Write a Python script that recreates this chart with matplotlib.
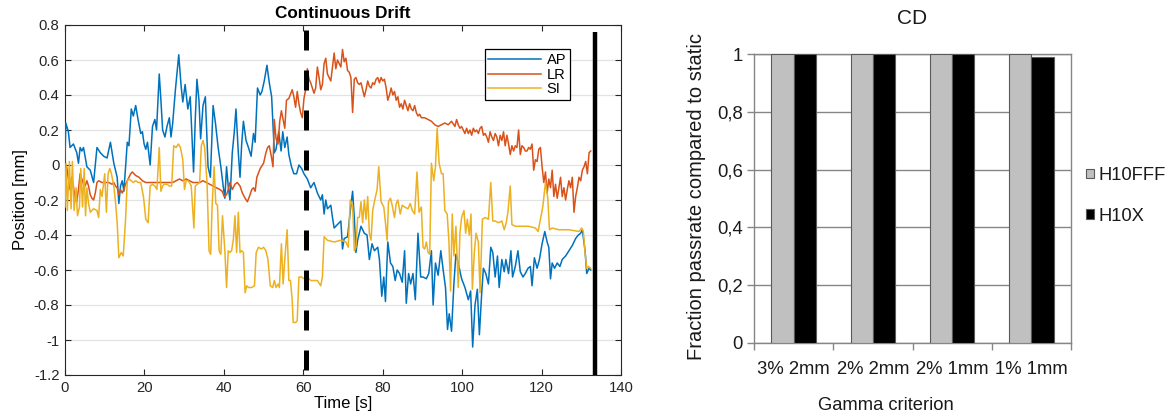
import matplotlib
matplotlib.use('Agg')
import matplotlib.pyplot as plt
import numpy as np

plt.rcParams['font.family'] = ['Liberation Sans', 'DejaVu Sans']
plt.rcParams['axes.unicode_minus'] = False

# ---------------- data: left panel (time [s], position [mm]) ----------------
ap = [(0.0, 0.02), (0.2, 0.24), (0.85, 0.19), (1.27, 0.10), (2.12, 0.12), (2.97, 0.07), (3.39, 0.01),
      (3.81, 0.10), (4.24, 0.08), (4.66, 0.10), (5.51, -0.01), (6.36, -0.03), (7.2, -0.10), (8.05, 0.10),
      (8.9, 0.07), (9.75, 0.05), (10.59, 0.04), (11.44, 0.13), (12.29, 0.01), (13.14, -0.07), (13.56, -0.22),
      (13.98, -0.12), (14.41, -0.09), (14.83, -0.15), (15.68, 0.13), (16.1, 0.11), (16.69, 0.32), (17.2, 0.28),
      (17.8, 0.34), (18.39, 0.26), (19.07, 0.18), (19.49, 0.19), (19.92, 0.12), (20.34, 0.09), (20.76, 0.13),
      (21.44, 0.00), (22.03, 0.22), (22.63, 0.26), (23.05, 0.20), (23.73, 0.52), (24.15, 0.37), (24.58, 0.20),
      (25.17, 0.16), (25.68, 0.22), (26.27, 0.27), (26.69, 0.16), (27.12, 0.24), (27.8, 0.43), (28.64, 0.63),
      (29.24, 0.45), (29.66, 0.36), (30.25, 0.46), (30.93, 0.32), (31.53, 0.39), (31.78, 0.26), (32.37, -0.04),
      (32.8, 0.26), (33.22, 0.49), (33.73, 0.37), (34.15, 0.15), (34.75, 0.34), (35.34, 0.39), (36.02, -0.01),
      (36.61, -0.07), (37.29, 0.34), (37.88, 0.24), (38.56, 0.10), (39.24, -0.01), (39.83, -0.12), (40.25, -0.19),
      (40.68, -0.01), (41.1, -0.12), (41.53, -0.20), (42.12, 0.07), (42.63, 0.19), (43.05, 0.32), (43.64, 0.07),
      (44.07, -0.07), (44.49, 0.12), (44.92, 0.25), (45.59, 0.14), (46.19, 0.10), (46.86, 0.05), (47.46, 0.18),
      (47.88, 0.13), (48.47, 0.44), (49.15, 0.40), (49.58, 0.42), (50.17, 0.48), (50.85, 0.57), (51.44, 0.47),
      (52.03, 0.39), (52.71, 0.07), (53.14, 0.09), (53.81, 0.19), (54.41, 0.08), (54.83, 0.19), (55.34, 0.10),
      (55.93, 0.16), (56.36, 0.06), (57.03, -0.01), (57.63, -0.05), (58.31, -0.05), (58.9, 0.00), (59.58, -0.02),
      (60.17, -0.05), (61.02, -0.08), (61.86, -0.13), (62.7, -0.10), (63.55, -0.16), (64.39, -0.20), (64.81, -0.17),
      (65.24, -0.28), (65.66, -0.20), (66.08, -0.25), (66.93, -0.23), (67.35, -0.30), (67.77, -0.36), (68.61, -0.34),
      (69.46, -0.32), (69.88, -0.48), (70.3, -0.42), (71.15, -0.41), (71.99, -0.23), (72.42, -0.15), (72.84, -0.30),
      (73.26, -0.50), (73.68, -0.43), (74.53, -0.35), (75.37, -0.39), (76.05, -0.40), (76.64, -0.54), (77.31, -0.45),
      (77.9, -0.49), (78.75, -0.47), (79.17, -0.54), (79.76, -0.75), (80.27, -0.64), (80.69, -0.78), (81.28, -0.44),
      (81.96, -0.56), (82.55, -0.58), (83.14, -0.66), (83.65, -0.60), (84.24, -0.62), (84.91, -0.67), (85.51, -0.49),
      (85.93, -0.79), (86.52, -0.62), (87.03, -0.68), (87.62, -0.62), (88.21, -0.77), (88.88, -0.39), (89.56, -0.64),
      (90.15, -0.64), (90.99, -0.65), (91.59, -0.62), (92.26, -0.49), (92.69, -0.80), (93.28, -0.56), (93.95, -0.63),
      (94.63, -0.49), (95.22, -0.60), (95.81, -0.70), (96.32, -0.94), (96.74, -0.85), (97.33, -0.95), (97.92, -0.68),
      (98.43, -0.51), (99.02, -0.56), (99.86, -0.65), (100.71, -0.70), (101.55, -0.77), (102.14, -0.72),
      (102.65, -1.04), (103.24, -0.80), (103.83, -0.71), (104.34, -0.97), (104.93, -0.73), (105.35, -0.59),
      (105.95, -0.62), (106.62, -0.68), (107.21, -0.47), (107.72, -0.50), (108.31, -0.64), (108.9, -0.52),
      (109.32, -0.70), (109.99, -0.54), (110.59, -0.61), (111.01, -0.54), (111.69, -0.62), (112.28, -0.49),
      (112.7, -0.64), (113.38, -0.58), (114.05, -0.49), (114.64, -0.61), (115.32, -0.64), (115.91, -0.62),
      (116.59, -0.59), (117.18, -0.58), (117.6, -0.69), (118.19, -0.53), (118.87, -0.59), (119.46, -0.54),
      (120.13, -0.45), (120.81, -0.38), (121.4, -0.44), (121.82, -0.47), (122.25, -0.65), (122.67, -0.56),
      (123.26, -0.59), (123.94, -0.56), (124.61, -0.58), (125.2, -0.54), (126.05, -0.52), (126.89, -0.49),
      (127.74, -0.46), (128.58, -0.42), (129.26, -0.40), (129.85, -0.39), (130.27, -0.37), (130.95, -0.49),
      (131.37, -0.62), (131.96, -0.59), (132.38, -0.60)]

lr = [(0.0, -0.13), (0.42, -0.01), (0.85, -0.08), (1.27, -0.14), (1.69, -0.07), (2.12, -0.12), (2.54, -0.20),
      (2.97, -0.21), (3.39, -0.14), (3.81, -0.05), (4.24, -0.08), (4.66, -0.11), (5.08, -0.12), (5.51, -0.09),
      (5.93, -0.12), (6.36, -0.17), (6.78, -0.19), (7.2, -0.20), (7.63, -0.16), (8.05, -0.10), (8.47, -0.09),
      (9.32, -0.10), (10.17, -0.10), (11.02, -0.10), (11.86, -0.11), (12.29, -0.10), (12.71, -0.12), (13.14, -0.13),
      (13.56, -0.17), (13.98, -0.14), (14.41, -0.16), (14.83, -0.14), (15.25, -0.11), (15.68, -0.09), (16.53, -0.05),
      (16.95, -0.04), (17.8, -0.06), (18.64, -0.07), (19.49, -0.09), (20.34, -0.10), (21.19, -0.10), (22.46, -0.10),
      (24.15, -0.10), (25.85, -0.10), (27.12, -0.10), (27.97, -0.09), (28.81, -0.08), (29.66, -0.09), (30.51, -0.08),
      (31.36, -0.09), (32.2, -0.10), (33.05, -0.10), (33.9, -0.10), (34.75, -0.09), (35.59, -0.10), (36.44, -0.11),
      (37.29, -0.12), (38.14, -0.13), (38.98, -0.14), (39.58, -0.15), (40.08, -0.18), (40.68, -0.17), (41.1, -0.14),
      (41.53, -0.10), (42.12, -0.14), (42.8, -0.11), (43.39, -0.10), (44.07, -0.12), (44.66, -0.16), (45.34, -0.19),
      (45.93, -0.21), (46.44, -0.18), (47.03, -0.14), (47.46, -0.13), (47.88, -0.15), (48.31, -0.07), (49.15, -0.02),
      (50.0, 0.01), (50.59, 0.07), (51.02, 0.10), (51.44, 0.11), (51.95, 0.05), (52.37, -0.01), (52.71, 0.26),
      (53.14, 0.15), (53.64, 0.12), (54.07, 0.25), (54.49, 0.31), (54.92, 0.26), (55.34, 0.21), (55.76, 0.37),
      (56.36, 0.38), (57.21, 0.43), (57.63, 0.39), (58.06, 0.33), (58.48, 0.42), (58.9, 0.35), (59.32, 0.30),
      (59.75, 0.27), (60.17, 0.38), (60.59, 0.43), (61.01, 0.55), (61.44, 0.49), (61.86, 0.47), (62.28, 0.44),
      (62.7, 0.41), (63.12, 0.44), (63.55, 0.56), (63.97, 0.50), (64.39, 0.43), (64.81, 0.46), (65.24, 0.58),
      (65.66, 0.61), (66.08, 0.52), (66.5, 0.50), (66.93, 0.48), (67.35, 0.56), (67.77, 0.64), (68.19, 0.55),
      (68.61, 0.60), (69.04, 0.58), (69.46, 0.56), (69.88, 0.66), (70.3, 0.59), (70.73, 0.61), (71.15, 0.54),
      (71.57, 0.53), (71.99, 0.50), (72.42, 0.30), (72.84, 0.49), (73.26, 0.50), (73.68, 0.47), (74.1, 0.46),
      (74.53, 0.47), (74.95, 0.43), (75.37, 0.39), (75.79, 0.43), (76.22, 0.48), (76.64, 0.45), (77.06, 0.44),
      (77.48, 0.47), (77.9, 0.46), (78.33, 0.49), (78.75, 0.50), (79.17, 0.47), (79.59, 0.50), (80.02, 0.48),
      (80.44, 0.49), (80.86, 0.44), (81.28, 0.37), (81.71, 0.40), (82.13, 0.44), (82.55, 0.40), (82.97, 0.42),
      (83.39, 0.37), (83.82, 0.39), (84.24, 0.33), (84.66, 0.35), (85.08, 0.32), (85.51, 0.37), (85.93, 0.34),
      (86.35, 0.31), (86.77, 0.35), (87.2, 0.32), (87.62, 0.31), (88.04, 0.34), (88.46, 0.30), (88.88, 0.28),
      (89.31, 0.29), (89.73, 0.27), (90.57, 0.27), (91.42, 0.26), (92.26, 0.25), (93.11, 0.23), (93.95, 0.22),
      (94.8, 0.23), (95.64, 0.24), (96.49, 0.23), (97.33, 0.25), (98.18, 0.22), (98.6, 0.26), (99.02, 0.23),
      (99.44, 0.21), (99.86, 0.22), (100.29, 0.20), (100.71, 0.18), (101.13, 0.21), (101.55, 0.18), (101.98, 0.20),
      (102.4, 0.17), (102.82, 0.21), (103.24, 0.19), (103.66, 0.20), (104.09, 0.18), (104.51, 0.21), (104.93, 0.22),
      (105.35, 0.17), (105.78, 0.18), (106.2, 0.16), (106.62, 0.13), (107.04, 0.19), (107.47, 0.16), (107.89, 0.14),
      (108.31, 0.18), (108.73, 0.16), (109.15, 0.11), (109.58, 0.17), (110.0, 0.14), (110.42, 0.19), (110.84, 0.11),
      (111.27, 0.17), (111.69, 0.12), (112.11, 0.06), (112.53, 0.11), (112.96, 0.08), (113.38, 0.11), (113.8, 0.10),
      (114.22, 0.20), (114.64, 0.06), (115.07, 0.11), (115.49, 0.10), (115.91, 0.08), (116.33, 0.08), (116.76, 0.10),
      (117.18, 0.09), (117.6, 0.12), (118.02, -0.03), (118.44, 0.03), (118.87, 0.02), (119.29, 0.09), (119.71, 0.10),
      (120.13, -0.01), (120.56, -0.10), (120.98, -0.04), (121.4, -0.16), (121.82, -0.08), (122.25, -0.13),
      (122.67, -0.03), (123.09, -0.18), (123.51, -0.11), (123.94, -0.19), (124.36, -0.13), (124.78, -0.07),
      (125.2, -0.18), (125.63, -0.13), (126.05, -0.20), (126.47, -0.14), (126.89, -0.09), (127.31, -0.13),
      (127.74, -0.07), (128.16, -0.27), (128.58, -0.18), (129.0, -0.13), (129.43, -0.07), (129.85, -0.09),
      (130.27, -0.03), (130.69, -0.01), (131.11, 0.02), (131.54, -0.05), (131.96, 0.07), (132.38, 0.08)]

si = [(0.0, -0.24), (0.25, 0.01), (0.59, -0.26), (1.1, 0.02), (1.53, -0.25), (1.86, 0.02), (2.29, -0.26),
      (2.8, -0.13), (3.14, -0.29), (3.64, -0.24), (3.98, -0.02), (4.41, -0.24), (4.83, -0.02), (5.17, -0.29),
      (5.51, -0.13), (5.93, -0.22), (6.36, -0.27), (7.2, -0.25), (8.05, -0.26), (8.47, -0.30), (8.9, -0.14),
      (9.32, -0.18), (10.0, -0.05), (10.42, -0.27), (10.85, -0.05), (11.27, -0.02), (11.69, -0.05), (12.29, -0.12),
      (12.71, -0.21), (13.14, -0.33), (13.56, -0.53), (14.15, -0.50), (14.66, -0.52), (15.25, -0.31), (15.68, -0.09),
      (16.1, -0.08), (16.69, -0.09), (17.2, -0.10), (17.8, -0.09), (18.39, -0.10), (19.07, -0.10), (19.75, -0.18),
      (20.34, -0.31), (20.93, -0.33), (21.44, -0.12), (22.03, -0.11), (22.63, -0.12), (23.14, -0.14), (23.73, 0.10),
      (24.15, -0.15), (24.58, -0.12), (25.0, -0.11), (25.68, -0.11), (26.27, -0.12), (26.86, -0.12), (27.37, 0.11),
      (27.97, 0.10), (28.56, 0.12), (29.07, 0.10), (29.66, 0.03), (30.08, -0.14), (30.51, -0.09), (30.93, -0.09),
      (31.36, -0.10), (31.78, -0.12), (32.46, -0.36), (32.8, -0.12), (33.31, -0.11), (33.9, -0.10), (34.32, 0.11),
      (34.75, 0.14), (35.17, 0.10), (35.76, -0.10), (36.27, -0.49), (36.69, -0.51), (37.03, -0.24), (37.54, -0.01),
      (37.97, -0.22), (38.39, -0.23), (38.81, -0.49), (39.24, -0.51), (39.66, -0.29), (40.25, -0.49), (40.68, -0.70),
      (41.1, -0.49), (41.53, -0.50), (41.95, -0.49), (42.37, -0.43), (42.8, -0.29), (43.22, -0.50), (43.64, -0.27),
      (44.07, -0.50), (44.49, -0.49), (44.92, -0.50), (45.34, -0.73), (45.76, -0.69), (46.19, -0.70), (47.03, -0.70),
      (47.71, -0.69), (48.14, -0.50), (48.73, -0.47), (49.41, -0.48), (50.0, -0.47), (50.59, -0.49), (51.1, -0.54),
      (51.69, -0.69), (52.29, -0.70), (52.71, -0.66), (53.14, -0.70), (53.64, -0.68), (53.98, -0.70), (54.49, -0.45),
      (54.92, -0.68), (55.34, -0.54), (55.93, -0.37), (56.36, -0.66), (56.78, -0.66), (57.2, -0.77), (57.46, -0.90),
      (58.05, -0.90), (58.47, -0.89), (58.9, -0.64), (59.58, -0.64), (60.17, -0.65), (61.02, -0.64), (61.86, -0.66),
      (63.55, -0.66), (64.39, -0.69), (64.81, -0.64), (65.24, -0.41), (66.08, -0.43), (67.77, -0.44), (69.46, -0.43),
      (70.73, -0.44), (71.32, -0.47), (71.82, -0.20), (72.42, -0.23), (72.84, -0.49), (73.26, -0.47), (73.68, -0.30),
      (74.1, -0.30), (74.53, -0.21), (74.95, -0.33), (75.37, -0.20), (75.79, -0.31), (76.22, -0.18), (76.64, -0.39),
      (77.06, -0.43), (77.48, -0.26), (77.9, -0.21), (78.58, -0.14), (79.0, -0.01), (79.59, -0.21), (80.27, -0.24),
      (80.69, -0.33), (81.11, -0.43), (81.45, -0.21), (81.96, -0.19), (82.38, -0.23), (82.97, -0.30), (83.39, -0.22),
      (83.82, -0.20), (84.41, -0.28), (84.91, -0.23), (85.51, -0.24), (86.35, -0.25), (86.94, -0.22), (87.45, -0.26),
      (88.04, -0.28), (88.63, -0.04), (89.14, -0.27), (89.73, -0.24), (90.15, -0.47), (90.57, -0.48), (90.99, -0.44),
      (91.42, -0.50), (91.84, -0.51), (92.26, 0.01), (92.85, -0.09), (93.28, -0.01), (93.7, 0.21), (94.2, 0.01),
      (94.8, -0.05), (95.22, -0.05), (95.64, -0.26), (96.23, -0.28), (96.66, -0.43), (97.08, -0.72), (97.5, -0.28),
      (97.92, -0.52), (98.43, -0.35), (99.02, -0.70), (99.44, -0.39), (99.86, -0.30), (100.46, -0.26), (100.88, -0.39),
      (101.3, -0.31), (101.81, -0.40), (102.23, -0.28), (102.57, -0.71), (103.07, -0.50), (103.5, -0.39),
      (104.09, -0.44), (104.51, -0.73), (105.1, -0.31), (105.78, -0.30), (106.62, -0.31), (107.21, -0.10),
      (107.72, -0.32), (108.31, -0.32), (109.15, -0.33), (109.99, -0.32), (110.59, -0.37), (111.1, -0.33),
      (111.52, -0.27), (112.11, -0.12), (112.53, -0.34), (113.38, -0.35), (115.07, -0.35), (116.76, -0.35),
      (118.44, -0.36), (119.12, -0.38), (119.71, -0.31), (120.3, -0.24), (120.98, -0.10), (121.57, -0.19),
      (121.99, -0.37), (122.67, -0.36), (124.36, -0.37), (126.89, -0.37), (129.43, -0.38), (130.1, -0.36),
      (130.52, -0.38), (130.95, -0.50), (131.37, -0.59), (131.79, -0.58), (132.38, -0.59)]

series_names = ['AP', 'LR', 'SI']
series_colors = ['#0072BD', '#D95319', '#EDB120']
event_times = [60.6, 133.5]          # dashed marker, solid marker
event_tops = [0.77, 0.76]

x_ticks_left = [0, 20, 40, 60, 80, 100, 120, 140]
y_ticks_left = [-1.2, -1.0, -0.8, -0.6, -0.4, -0.2, 0.0, 0.2, 0.4, 0.6, 0.8]
y_ticklabels_left = ['-1.2', '-1', '-0.8', '-0.6', '-0.4', '-0.2', '0', '0.2', '0.4', '0.6', '0.8']

# ---------------- data: right panel ----------------
criteria = ['3% 2mm', '2% 2mm', '2% 1mm', '1% 1mm']
h10fff = [1.0, 1.0, 1.0, 1.0]
h10x = [1.0, 1.0, 1.0, 0.992]
y_ticks_right = [0, 0.2, 0.4, 0.6, 0.8, 1.0]
y_ticklabels_right = ['0', '0,2', '0,4', '0,6', '0,8', '1']

W, H = 1173, 420
fig = plt.figure(figsize=(W / 100, H / 100), dpi=100)

# ---------------- left panel ----------------
ax = fig.add_axes([65 / W, 45 / H, 556 / W, 350 / H])
for data, name, col in zip([ap, lr, si], series_names, series_colors):
    t = [p[0] for p in data]
    v = [p[1] for p in data]
    ax.plot(t, v, color=col, lw=1.1, label=name, zorder=3)

ax.plot([event_times[0]] * 2, [event_tops[0], -1.2], color='black', lw=3.6,
        dashes=(4, 4), zorder=4, solid_capstyle='butt', dash_capstyle='butt')
ax.plot([event_times[1]] * 2, [event_tops[1], -1.2], color='black', lw=3.2,
        zorder=4, solid_capstyle='butt')

ax.set_xlim(0, 140)
ax.set_ylim(-1.2, 0.8)
ax.set_xticks(x_ticks_left)
ax.set_yticks(y_ticks_left)
ax.set_yticklabels(y_ticklabels_left)
ax.tick_params(direction='in', top=True, right=True, length=4.5, width=0.8,
               labelsize=10.7, colors='#262626', pad=4)
ax.yaxis.grid(True, color='#e3e3e3', lw=0.9, zorder=0)
for s in ax.spines.values():
    s.set_color('#262626')
    s.set_linewidth(0.8)
ax.set_title('Continuous Drift', fontsize=12.3, fontweight='bold', pad=4.8)
ax.set_xlabel('Time [s]', fontsize=12, labelpad=1)
ax.set_ylabel('Position [mm]', fontsize=12, labelpad=4)
leg = ax.legend(loc='upper right', bbox_to_anchor=(0.908, 0.9306), fontsize=10.5,
                frameon=True, fancybox=False, edgecolor='black', framealpha=1,
                handlelength=3.6, handletextpad=0.4, labelspacing=0.05,
                borderpad=0.25, borderaxespad=0)
leg.get_frame().set_linewidth(0.9)

# ---------------- right panel ----------------
ax2 = fig.add_axes([754 / W, (H - 342.7) / H, 317 / W, 288.4 / H])
x = np.arange(len(criteria))
w = 0.28
ax2.bar(x - w / 2, h10fff, w, color='#c0c0c0', edgecolor='#5a5a5a', lw=0.8,
        label='H10FFF', zorder=3)
ax2.bar(x + w / 2, h10x, w, color='black', edgecolor='#5a5a5a', lw=0.8,
        label='H10X', zorder=3)
ax2.set_xlim(-0.5, len(criteria) - 0.5)
ax2.set_ylim(0, 1)
ax2.set_yticks(y_ticks_right)
ax2.set_yticklabels(y_ticklabels_right)
ax2.set_xticks(np.arange(len(criteria) + 1) - 0.5)
ax2.set_xticklabels([])
ax2.set_xticks(x, minor=True)
ax2.set_xticklabels(criteria, minor=True)
ax2.tick_params(axis='x', which='minor', length=0, pad=13, labelsize=13.3, colors='#1a1a1a')
ax2.tick_params(axis='x', which='major', length=5, width=1, color='#868686', direction='out')
ax2.tick_params(axis='y', length=5, width=1, color='#868686', direction='out',
                labelsize=13.3, labelcolor='#1a1a1a', pad=3)
ax2.yaxis.grid(True, color='#868686', lw=1, zorder=0)
ax2.set_axisbelow(True)
for s in ax2.spines.values():
    s.set_color('#868686')
    s.set_linewidth(1)
ax2.set_title('CD', fontsize=15, pad=21.8, color='#1a1a1a')
ax2.set_ylabel('Fraction passrate compared to static', fontsize=14.5, color='#1a1a1a')
ax2.yaxis.set_label_coords(-0.151, 0.507)
ax2.set_xlabel('Gamma criterion', fontsize=13.2, color='#1a1a1a')
ax2.xaxis.set_label_coords(0.415, -0.19)
leg2 = ax2.legend(loc='center left', bbox_to_anchor=(1086 / W, 1 - 196 / H),
                  bbox_transform=fig.transFigure, frameon=False, fontsize=13.2,
                  handlelength=0.45, handleheight=0.45, handletextpad=0.25,
                  labelspacing=1.3, borderpad=0, borderaxespad=0)
for txt in leg2.get_texts():
    txt.set_color('#1a1a1a')

fig.savefig('out.png', dpi=100)
